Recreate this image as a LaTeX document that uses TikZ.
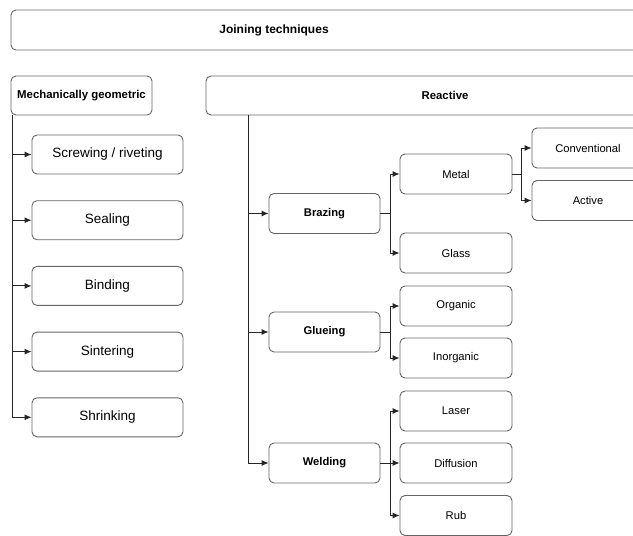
\documentclass[tikz,border=0pt]{standalone}
\usepackage{fontspec}
\setmainfont{Liberation Sans}
\usetikzlibrary{arrows.meta}

\tikzset{
  box/.style={draw=black!60, line width=0.9pt, rounded corners=5pt, fill=white,
    inner sep=0pt, align=center},
  headbox/.style={box, minimum height=39pt, font=\fontsize{11.4}{13}\selectfont\bfseries},
  leafbox/.style={box, minimum width=151pt, minimum height=39pt,
    font=\fontsize{13.5}{15}\selectfont},
  subbox/.style={box, minimum width=112pt, minimum height=40pt,
    font=\fontsize{11.2}{13}\selectfont},
  kindbox/.style={subbox, minimum width=111pt, font=\fontsize{11.2}{13}\selectfont\bfseries},
  link/.style={draw=black!85, line width=0.9pt},
  arr/.style={link, -{Latex[length=7pt,width=6pt]}},
}

\begin{document}
\begin{tikzpicture}[x=1pt, y=-1pt]
  \useasboundingbox (0,0) rectangle (633,536);

  % root
  \draw[box] (11,10) rectangle (700,50);
  \node[font=\fontsize{12}{14}\selectfont\bfseries] (root) at (274,30) {Joining techniques};

  % two families
  \node[headbox, minimum width=141pt] (mech) at (81.5,95.5) {Mechanically geometric};
  \node[headbox, minimum width=478pt] (react) at (445,95.5) {Reactive};

  % mechanically geometric branch
  \foreach \txt [count=\i] in {{Screwing / riveting}, Sealing, Binding, Sintering, Shrinking}
    \node[leafbox] (leaf\i) at (107.5, {154.5+65.7*(\i-1)}) {\txt};
  \coordinate (mtrunk) at ([xshift=2pt]mech.south west);
  \draw[arr] (mtrunk) |- (leaf5.west);
  \foreach \i in {1,...,4}
    \draw[arr] (mtrunk |- leaf\i.west) -- (leaf\i.west);

  % reactive branch
  \node[kindbox] (braze) at (324.5,213.5) {Brazing};
  \node[kindbox] (glue)  at (324.5,332)   {Glueing};
  \node[kindbox] (weld)  at (324.5,463)   {Welding};
  \coordinate (rtrunk) at ([xshift=43pt]react.south west);
  \draw[arr] (rtrunk) |- (weld.west);
  \draw[arr] (rtrunk |- braze.west) -- (braze.west);
  \draw[arr] (rtrunk |- glue.west) -- (glue.west);

  % brazing
  \node[subbox] (metal) at (456,174) {Metal};
  \node[subbox] (glass) at (456,253) {Glass};
  \coordinate (bj) at ([xshift=10pt]braze.east);
  \draw[arr] (braze.east) -- (bj) |- (metal.west);
  \draw[arr] (bj) |- (glass.west);

  \node[subbox] (conv)   at (588,148)   {Conventional};
  \node[subbox] (active) at (588,200.5) {Active};
  \coordinate (mj) at ([xshift=9pt]metal.east);
  \draw[arr] (metal.east) -- (mj) |- (conv.west);
  \draw[arr] (mj) |- (active.west);

  % glueing
  \node[subbox] (organic)   at (456,306) {Organic};
  \node[subbox] (inorganic) at (456,358) {Inorganic};
  \coordinate (gj) at ([xshift=10pt]glue.east);
  \draw[arr] (glue.east) -- (gj) |- (organic.west);
  \draw[arr] (gj) |- (inorganic.west);

  % welding
  \node[subbox] (laser)     at (456,411)   {Laser};
  \node[subbox] (diffusion) at (456,463)   {Diffusion};
  \node[subbox] (rub)       at (456,515.5) {Rub};
  \coordinate (wj) at ([xshift=10pt]weld.east);
  \draw[arr] (weld.east) -- (diffusion.west);
  \draw[arr] (wj) |- (laser.west);
  \draw[arr] (wj) |- (rub.west);
\end{tikzpicture}
\end{document}
